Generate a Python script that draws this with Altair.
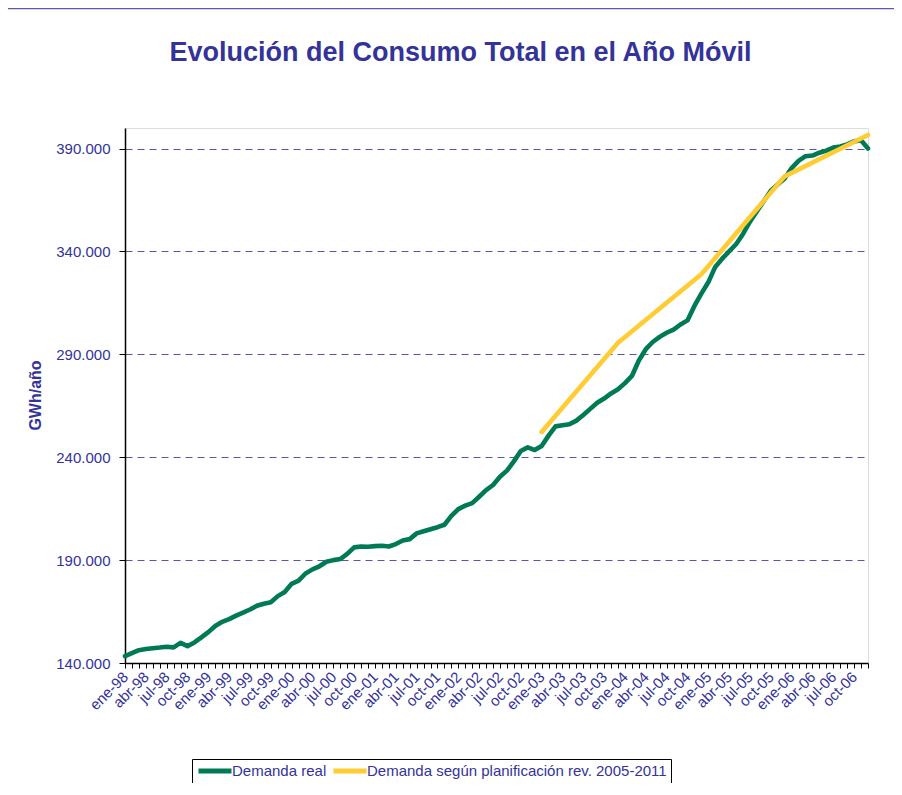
import altair as alt
import pandas as pd

# Categories: monthly, ene-98 .. dic-06
month_names = ["ene", "feb", "mar", "abr", "may", "jun", "jul", "ago", "sep", "oct", "nov", "dic"]
years = ["98", "99", "00", "01", "02", "03", "04", "05", "06"]
months = [f"{m}-{y}" for y in years for m in month_names]

# Demanda real (thousand GWh), one value per month
real_values = [
    143.4, 144.8, 146.2, 146.8, 147.2, 147.5, 147.9, 147.6, 149.8, 148.2, 150.0, 152.5,
    155.0, 158.0, 160.0, 161.3, 163.0, 164.5, 166.0, 167.8, 168.8, 169.5, 172.5, 174.5,
    178.5, 180.0, 183.5, 185.5, 187.0, 189.2, 190.0, 190.5, 193.0, 196.2, 196.6, 196.5,
    196.8, 197.0, 196.6, 197.8, 199.5, 200.2, 203.0, 204.0, 205.0, 206.0, 207.2, 211.5,
    214.8, 216.5, 217.7, 220.8, 224.0, 226.5, 230.5, 233.5, 238.0, 243.0, 244.8, 243.5,
    245.5, 250.5, 255.0, 255.5, 256.0, 257.8, 260.5, 263.5, 266.5, 268.5, 271.0, 273.0,
    276.0, 279.5, 287.0, 292.5, 296.0, 298.5, 300.5, 302.0, 304.5, 306.5, 313.5, 319.5,
    325.0, 332.5, 336.5, 340.0, 343.5, 348.5, 354.5, 359.5, 364.5, 369.5, 372.5, 375.5,
    380.5, 384.0, 386.3, 386.6, 388.0, 389.0, 390.5, 391.0, 392.0, 393.5, 394.0, 390.0,
]

# Demanda según planificación rev. 2005-2011 (thousand GWh)
plan_months = ["ene-03", "dic-03", "dic-04", "dic-05", "dic-06"]
plan_values = [252.3, 295.6, 328.9, 376.5, 396.6]

series_names = ["Demanda real", "Demanda según planificación rev. 2005-2011"]
series_colors = ["#007A55", "#FFCC33"]

y_ticks = [140000, 190000, 240000, 290000, 340000, 390000]

df = pd.concat([
    pd.DataFrame({"mes": months, "valor": [v * 1000 for v in real_values], "serie": series_names[0]}),
    pd.DataFrame({"mes": plan_months, "valor": [v * 1000 for v in plan_values], "serie": series_names[1]}),
], ignore_index=True)

BLUE = "#333399"
FONT = "Liberation Sans"

lines = alt.Chart(df).mark_line(strokeWidth=4.6, strokeJoin="round", strokeCap="round").encode(
    x=alt.X(
        "mes:N",
        scale=alt.Scale(domain=months, type="point", padding=0),
        sort=months,
        axis=alt.Axis(
            title=None,
            labelAngle=-45,
            labelAlign="right",
            labelBaseline="middle",
            labelExpr="indexof(['ene','abr','jul','oct'], slice(datum.label, 0, 3)) >= 0 ? datum.label : ''",
            labelOverlap=False,
            labelFont=FONT,
            labelFontSize=15,
            labelColor=BLUE,
            labelPadding=6,
            tickSize=5,
            tickColor="#000000",
            domainColor="#000000",
            domainWidth=1.5,
            grid=False,
        ),
    ),
    y=alt.Y(
        "valor:Q",
        scale=alt.Scale(domain=[140000, 400000], nice=False, zero=False),
        axis=alt.Axis(
            title="GWh/año",
            values=y_ticks,
            labelExpr="replace(format(datum.value, ','), ',', '.')",
            labelFont=FONT,
            labelFontSize=15,
            labelColor=BLUE,
            labelPadding=9,
            tickSize=6,
            tickColor="#000000",
            domainColor="#000000",
            domainWidth=1.5,
            grid=True,
            gridColor="#5555AA",
            gridDash=[7, 5],
            gridWidth=1,
            titleFont=FONT,
            titleFontSize=16,
            titleFontWeight="bold",
            titleColor=BLUE,
            titleAngle=-90,
            titleX=-90,
            titleY=267,
            titleAlign="center",
            titleBaseline="middle",
        ),
    ),
    color=alt.Color(
        "serie:N",
        scale=alt.Scale(domain=series_names, range=series_colors),
        legend=alt.Legend(
            title=None,
            orient="none",
            legendX=67,
            legendY=631,
            direction="horizontal",
            padding=4,
            strokeColor="#000000",
            fillColor="#FFFFFF",
            labelFont=FONT,
            labelFontSize=15,
            labelColor=BLUE,
            labelLimit=600,
            labelOffset=20,
            columnPadding=-4,
            symbolType="M-1,0H5",
            symbolSize=121,
            symbolStrokeWidth=5,
        ),
    ),
)

# thin outer frame line at the top of the chart area
frame = alt.Chart(pd.DataFrame({"f": [0]})).mark_rule(color="#5B5BAA", strokeWidth=1.5).encode(
    x=alt.value(-117), x2=alt.value(777), y=alt.value(-119.5)
)

chart = alt.layer(lines, frame).properties(
    width=743,
    height=535,
    title=alt.TitleParams(
        "Evolución del Consumo Total en el Año Móvil",
        font=FONT,
        fontSize=27,
        fontWeight="bold",
        color=BLUE,
        anchor="middle",
        frame="group",
        dx=-36,
        offset=0,
        dy=59,
    ),
    autosize=alt.AutoSizeParams(type="none"),
    padding={"left": 117, "top": 120, "right": 26, "bottom": 120},
).configure_view(
    stroke="#999999",
    strokeWidth=2,
).configure(background="#FFFFFF")

chart.save("out.html", embed_options={"renderer": "svg", "actions": False})
